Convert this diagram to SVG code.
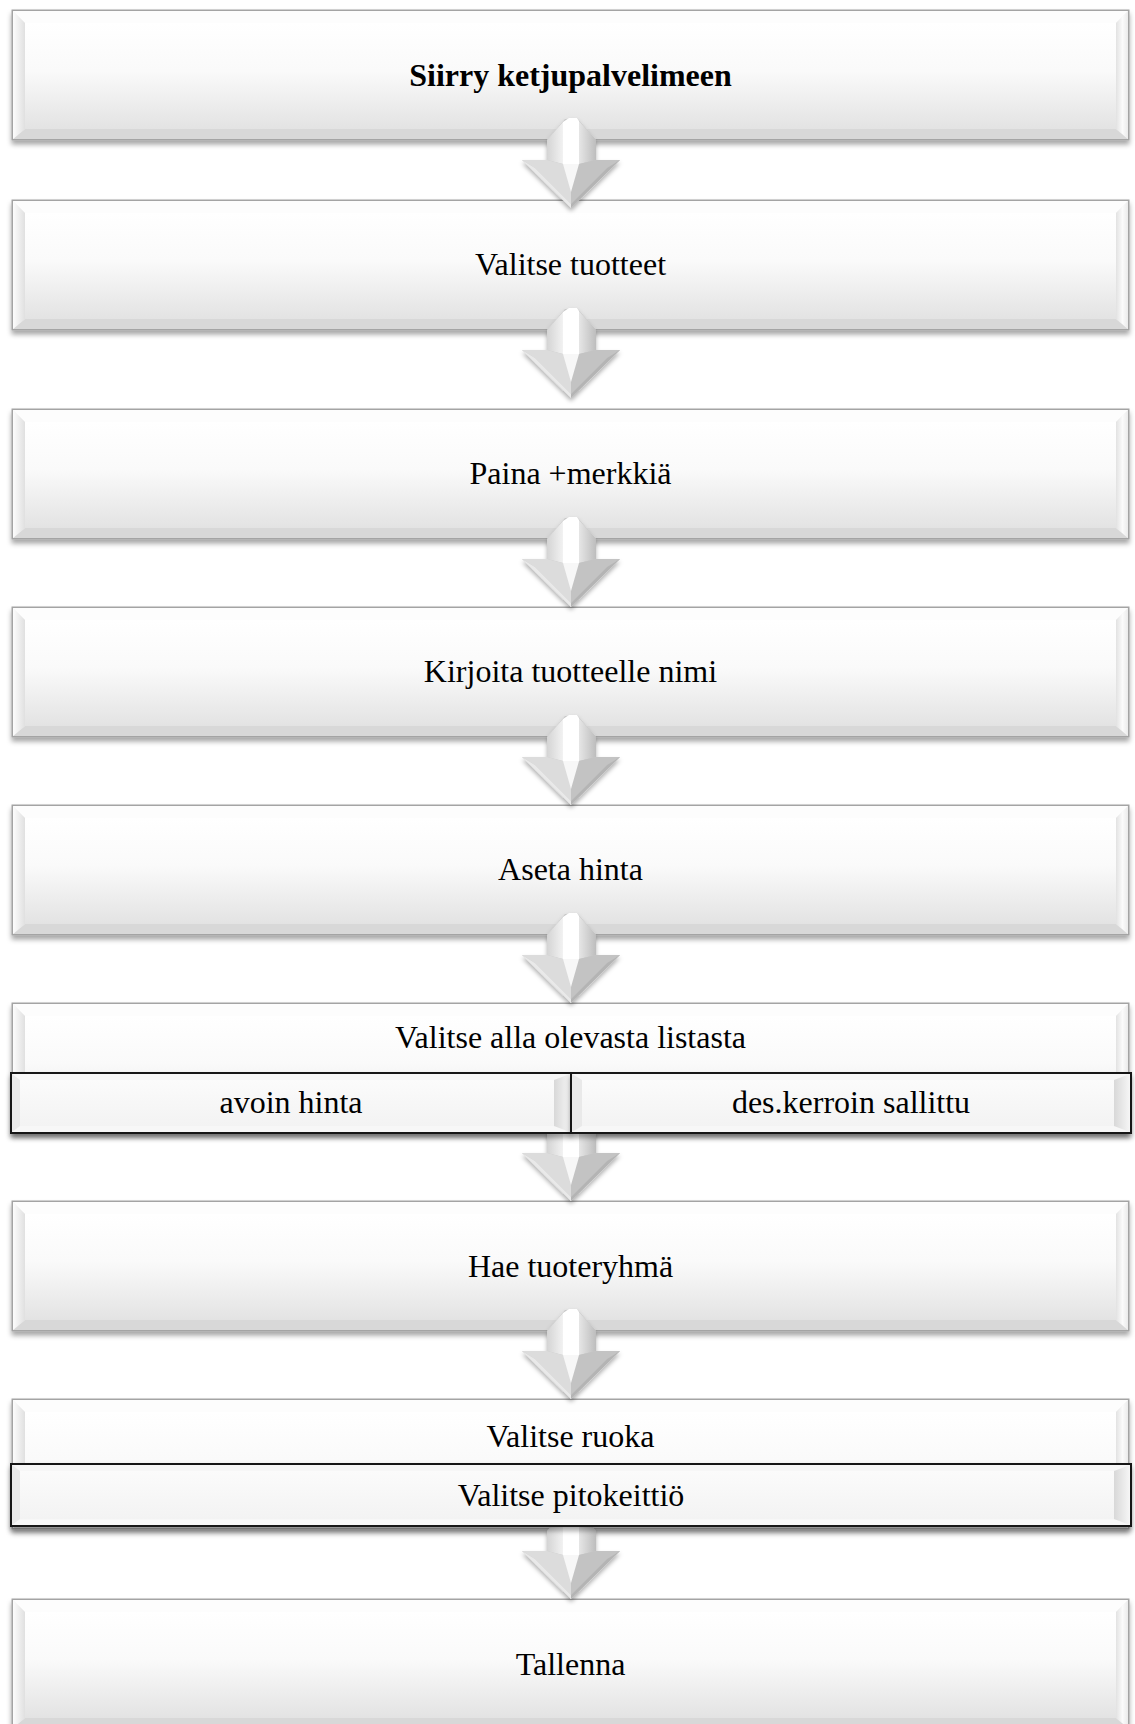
<svg xmlns="http://www.w3.org/2000/svg" xmlns:xlink="http://www.w3.org/1999/xlink" width="1135" height="1724" viewBox="0 0 1135 1724">
  <style>
    .label { font-family: "Liberation Serif", "Times New Roman", serif; font-size: 32px; fill: #000; text-anchor: middle; }
    .bold { font-weight: bold; }
    .optFrame { fill: #f7f7f7; stroke: #161616; stroke-width: 2; }
    .optInner { fill: url(#optFace); }
    .optBevelR { fill: url(#optRight); }
    .optBevelL { fill: #e9e9e9; }
  </style>
  <defs>
    <filter id="shadow" x="-5%" y="-20%" width="110%" height="150%">
      <feDropShadow dx="0" dy="4" stdDeviation="2.5" flood-color="#000" flood-opacity="0.35"/>
    </filter>
    <filter id="arrowShadow" x="-30%" y="-20%" width="160%" height="150%">
      <feDropShadow dx="0" dy="3" stdDeviation="2" flood-color="#000" flood-opacity="0.3"/>
    </filter>
    <linearGradient id="innerFace" x1="0" y1="0" x2="0" y2="1">
      <stop offset="0" stop-color="#ffffff"/>
      <stop offset="0.45" stop-color="#fafafa"/>
      <stop offset="1" stop-color="#e3e3e3"/>
    </linearGradient>
    <linearGradient id="leftFace" x1="0" y1="0" x2="1" y2="0">
      <stop offset="0" stop-color="#ffffff"/>
      <stop offset="1" stop-color="#e0e0e0"/>
    </linearGradient>
    <linearGradient id="rightFace" x1="0" y1="0" x2="1" y2="0">
      <stop offset="0" stop-color="#e2e2e2"/>
      <stop offset="0.5" stop-color="#fbfbfb"/>
      <stop offset="1" stop-color="#e8e8e8"/>
    </linearGradient>
    <linearGradient id="optFace" x1="0" y1="0" x2="0" y2="1">
      <stop offset="0" stop-color="#fbfbfb"/>
      <stop offset="1" stop-color="#f3f3f3"/>
    </linearGradient>
    <linearGradient id="optRight" x1="0" y1="0" x2="1" y2="0">
      <stop offset="0" stop-color="#d8d8d8"/>
      <stop offset="1" stop-color="#f6f6f6"/>
    </linearGradient>
    <linearGradient id="shaftL" x1="0" y1="0" x2="1" y2="0">
      <stop offset="0" stop-color="#d4d4d4"/>
      <stop offset="1" stop-color="#f2f2f2"/>
    </linearGradient>
    <linearGradient id="shaftR" x1="0" y1="0" x2="1" y2="0">
      <stop offset="0" stop-color="#e6e6e6"/>
      <stop offset="1" stop-color="#bdbdbd"/>
    </linearGradient>

    <!-- bevelled step box, 1117 x 130 -->
    <g id="bevelBox">
      <rect x="0" y="0" width="1117" height="130" fill="#f4f4f4" stroke="#a4a4a4" stroke-width="1" filter="url(#shadow)"/>
      <rect x="13" y="13" width="1091" height="106" fill="url(#innerFace)"/>
      <polygon points="0,0 1117,0 1104,13 13,13" fill="#fdfdfd"/>
      <polygon points="0,0 13,13 13,119 0,130" fill="url(#leftFace)"/>
      <polygon points="1117,0 1104,13 1104,119 1117,130" fill="url(#rightFace)"/>
      <polygon points="0,130 13,119 1104,119 1117,130" fill="#d8d8d8"/>
      <rect x="0.5" y="0.5" width="1116" height="129" fill="none" stroke="#a4a4a4" stroke-width="1"/>
    </g>

    <!-- 3D down arrow, tip at origin -->
    <g id="downArrow" filter="url(#arrowShadow)">
      <polygon points="-24,-68 -6,-89 6,-90 25,-68 25,-48 49,-48 0,0 -49,-48 -24,-48" fill="#c8c8c8"/>
      <polygon points="-24,-68 -8,-86 -8,-44 -24,-48" fill="url(#shaftL)"/>
      <polygon points="8,-87 25,-68 25,-48 8,-44" fill="url(#shaftR)"/>
      <polygon points="-8,-86 -2,-90 6,-90 8,-87 8,-44 -8,-44" fill="#ffffff"/>
      <polygon points="-49,-48 -24,-48 -8,-44 0,-40 0,-4 -36,-40" fill="#dcdcdc"/>
      <polygon points="49,-48 25,-48 8,-44 0,-40 0,-4 36,-40" fill="#c3c3c3"/>
      <polygon points="-49,-48 -36,-40 0,-4 0,0" fill="#e9e9e9"/>
      <polygon points="49,-48 36,-40 0,-4 0,0" fill="#b4b4b4"/>
      <polygon points="-8,-44 8,-44 0,-16" fill="#f7f7f7"/>
    </g>
  </defs>

  <rect x="0" y="0" width="1135" height="1724" fill="#ffffff"/>

  <!-- main steps -->
  <g id="step1" transform="translate(12,10)">
    <use href="#bevelBox"/>
    <text class="label bold" x="558.5" y="76">Siirry ketjupalvelimeen</text>
  </g>
  <g id="step2" transform="translate(12,200)">
    <use href="#bevelBox"/>
    <text class="label" x="558.5" y="75">Valitse tuotteet</text>
  </g>
  <g id="step3" transform="translate(12,409)">
    <use href="#bevelBox"/>
    <text class="label" x="558.5" y="75">Paina +merkkiä</text>
  </g>
  <g id="step4" transform="translate(12,607)">
    <use href="#bevelBox"/>
    <text class="label" x="558.5" y="75">Kirjoita tuotteelle nimi</text>
  </g>
  <g id="step5" transform="translate(12,805)">
    <use href="#bevelBox"/>
    <text class="label" x="558.5" y="75">Aseta hinta</text>
  </g>
  <g id="step6" transform="translate(12,1003)">
    <use href="#bevelBox"/>
    <text class="label" x="558.5" y="45">Valitse alla olevasta listasta</text>
  </g>
  <g id="step7" transform="translate(12,1201)">
    <use href="#bevelBox"/>
    <text class="label" x="558.5" y="76">Hae tuoteryhmä</text>
  </g>
  <g id="step8" transform="translate(12,1399)">
    <use href="#bevelBox"/>
    <text class="label" x="558.5" y="48">Valitse ruoka</text>
  </g>
  <g id="step9" transform="translate(12,1599)">
    <use href="#bevelBox"/>
    <text class="label" x="558.5" y="76">Tallenna</text>
  </g>

  <!-- connectors -->
  <g id="connectors">
    <use href="#downArrow" x="571" y="208"/>
    <use href="#downArrow" x="571" y="398"/>
    <use href="#downArrow" x="571" y="607"/>
    <use href="#downArrow" x="571" y="805"/>
    <use href="#downArrow" x="571" y="1003"/>
    <use href="#downArrow" x="571" y="1201"/>
    <use href="#downArrow" x="571" y="1399"/>
    <use href="#downArrow" x="571" y="1599"/>
  </g>

  <!-- option rows inside steps 6 and 8 -->
  <g id="option-avoin-hinta">
    <rect class="optFrame" x="11" y="1073" width="560" height="60" filter="url(#shadow)"/>
    <rect class="optInner" x="20" y="1080" width="534" height="46"/>
    <polygon class="optBevelL" points="12,1074 20,1080 20,1126 12,1132"/>
    <polygon class="optBevelR" points="554,1080 570,1074 570,1132 554,1126"/>
    <text class="label" x="291" y="1113">avoin hinta</text>
  </g>
  <g id="option-des-kerroin">
    <rect class="optFrame" x="571" y="1073" width="560" height="60" filter="url(#shadow)"/>
    <rect class="optInner" x="582" y="1080" width="532" height="46"/>
    <polygon class="optBevelL" points="572,1074 582,1080 582,1126 572,1132"/>
    <polygon class="optBevelR" points="1114,1080 1130,1074 1130,1132 1114,1126"/>
    <text class="label" x="851" y="1113">des.kerroin sallittu</text>
  </g>
  <g id="option-pitokeittio">
    <rect class="optFrame" x="11" y="1464" width="1120" height="62" filter="url(#shadow)"/>
    <rect class="optInner" x="20" y="1471" width="1094" height="48"/>
    <polygon class="optBevelL" points="12,1465 20,1471 20,1519 12,1525"/>
    <polygon class="optBevelR" points="1114,1471 1130,1465 1130,1525 1114,1519"/>
    <text class="label" x="571" y="1506">Valitse pitokeittiö</text>
  </g>
</svg>
